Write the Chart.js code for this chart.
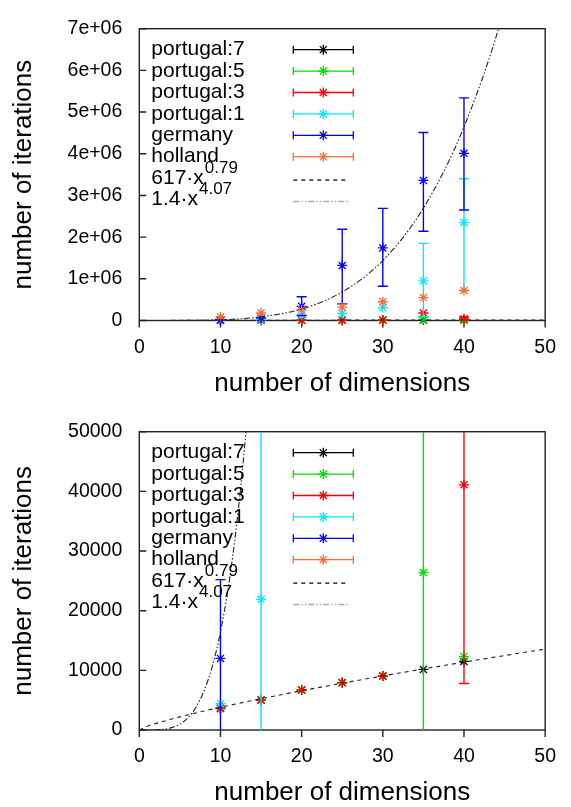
<!DOCTYPE html>
<html>
<head>
<meta charset="utf-8">
<script src="https://cdn.jsdelivr.net/npm/chart.js@4.4.0/dist/chart.umd.min.js"></script>
<style>
  html, body { margin: 0; padding: 0; background: #fff; }
  #wrap { position: relative; width: 571px; height: 807px; }
  .box { position: absolute; left: 0; width: 571px; }
  #top { top: 0; height: 403px; }
  #bottom { top: 403px; height: 404px; }
</style>
</head>
<body>
<div id="wrap">
  <div class="box" id="top"><canvas id="chartTop"></canvas></div>
  <div class="box" id="bottom"><canvas id="chartBottom"></canvas></div>
</div>
<script>
// dimensions measured
const dims = [10, 15, 20, 25, 30, 35, 40];

// mean iterations per series (null = no error bar)
const portugal7 = [3600, 5050, 6700, 7950, 9050, 10150, 11500];
const portugal5 = [3700, 5100, 6750, 7950, 9100, 26400, 12300];
const portugal5Lo = [null, null, null, null, null, -30000, null];
const portugal5Hi = [null, null, null, null, null, 90000, null];
const portugal3 = [3650, 5000, 6700, 7900, 9050, 180000, 41100];
const portugal3Lo = [null, null, null, null, null, null, 7800];
const portugal3Hi = [null, null, null, null, null, null, 85000];
const portugal1 = [4400, 21900, 130000, 170000, 310000, 950000, 2350000];
const portugal1Lo = [null, -20000, null, null, null, 90000, 720000];
const portugal1Hi = [null, 80000, null, null, null, 1850000, 3400000];
const germany = [12000, 60000, 340000, 1320000, 1740000, 3360000, 4010000];
const germanyLo = [-3000, null, 120000, 400000, 820000, 2140000, 2650000];
const germanyHi = [25200, null, 570000, 2190000, 2690000, 4510000, 5340000];
const holland = [90000, 180000, 250000, 320000, 450000, 550000, 720000];

// fitted curves
const fitX = [0, 1, 2, 3, 4, 5, 6, 7, 8, 9, 10, 11, 12, 13, 14, 15, 20, 25, 30, 35, 40, 45, 50];
const fitSlow = [0, 617, 1067, 1470, 1845, 2200, 2541, 2870, 3189, 3500, 3804, 4102, 4394, 4681, 4963,
  5241, 6578, 7847, 9064, 10238, 11377, 12483, 13568];
const fitFast = [0, 1.4, 23.5, 122, 395, 979, 2058, 3852, 6630, 10707, 16440, 24217, 34510, 47810, 64670,
  85700, 276500, 685000, 1439000, 2695000, 4644000, 7490000, 11500000];

const xTicks = [0, 10, 20, 30, 40, 50];

const FONT = '"Liberation Sans", Arial, sans-serif';
Chart.defaults.color = '#000';
Chart.defaults.font.family = FONT;

const pts = (xs, ys) => xs.map((x, i) => ({ x: x, y: ys[i] }));

function seriesSet() {
  const s = [
    { label: 'portugal:7', color: '#000000', data: portugal7, lo: null, hi: null },
    { label: 'portugal:5', color: '#00e000', data: portugal5, lo: portugal5Lo, hi: portugal5Hi },
    { label: 'portugal:3', color: '#ff0000', data: portugal3, lo: portugal3Lo, hi: portugal3Hi },
    { label: 'portugal:1', color: '#00e8ff', data: portugal1, lo: portugal1Lo, hi: portugal1Hi },
    { label: 'germany', color: '#0000ff', data: germany, lo: germanyLo, hi: germanyHi },
    { label: 'holland', color: '#ff6a30', data: holland, lo: null, hi: null }
  ];
  const out = s.map((d, i) => ({
    type: 'scatter',
    label: d.label,
    data: pts(dims, d.data),
    errLo: d.lo,
    errHi: d.hi,
    borderColor: d.color,
    backgroundColor: d.color,
    pointStyle: 'star',
    pointRadius: 5,
    pointBorderWidth: 1.3,
    order: -i,
    clip: { left: 8, right: 8, top: 0, bottom: 8 }
  }));
  out.push({
    type: 'line', label: '617·x', sup: '0.79', keyColor: '#000',
    data: pts(fitX, fitSlow), borderColor: '#222', borderWidth: 1.1,
    borderDash: [4, 4], pointRadius: 0, cubicInterpolationMode: 'monotone', order: -6
  });
  out.push({
    type: 'line', label: '1.4·x', sup: '4.07', keyColor: '#aaa',
    data: pts(fitX, fitFast), borderColor: '#222', borderWidth: 1.1,
    borderDash: [6, 2, 1.5, 2, 1.5, 2], pointRadius: 0, cubicInterpolationMode: 'monotone', order: -7
  });
  return out;
}

// error bars under each series' points
const errorBars = {
  id: 'errorBars',
  beforeDatasetDraw(chart, args) {
    const ds = chart.data.datasets[args.index];
    if (!ds.errLo) return;
    const { ctx, chartArea, scales: { x, y } } = chart;
    ctx.save();
    ctx.beginPath();
    ctx.rect(chartArea.left, chartArea.top, chartArea.width, chartArea.height);
    ctx.clip();
    ctx.strokeStyle = ds.borderColor;
    ctx.lineWidth = 1.4;
    ds.data.forEach((p, i) => {
      const lo = ds.errLo[i], hi = ds.errHi[i];
      if (lo == null || hi == null) return;
      const px = x.getPixelForValue(p.x);
      const a = y.getPixelForValue(lo), b = y.getPixelForValue(hi);
      ctx.beginPath();
      ctx.moveTo(px, a); ctx.lineTo(px, b);
      ctx.moveTo(px - 5, a); ctx.lineTo(px + 5, a);
      ctx.moveTo(px - 5, b); ctx.lineTo(px + 5, b);
      ctx.stroke();
    });
    ctx.restore();
  }
};

// gnuplot-like frame with inward y ticks, outward x ticks
const frame = {
  id: 'frame',
  beforeDatasetsDraw(chart) {
    const { ctx, chartArea: a, scales: { x, y } } = chart;
    ctx.save();
    ctx.strokeStyle = '#222';
    ctx.lineWidth = 1.4;
    ctx.strokeRect(a.left, a.top, a.width, a.height);
    ctx.beginPath();
    y.ticks.forEach(t => {
      const py = y.getPixelForValue(t.value);
      ctx.moveTo(a.left, py); ctx.lineTo(a.left + 7, py);
    });
    x.ticks.forEach(t => {
      const px = x.getPixelForValue(t.value);
      ctx.moveTo(px, a.bottom); ctx.lineTo(px, a.bottom + 7);
    });
    ctx.stroke();
    ctx.restore();
  }
};

// key in the upper left corner, text then sample
const key = {
  id: 'key',
  afterDatasetsDraw(chart) {
    const { ctx, chartArea: a } = chart;
    const tx = a.left + 12, y0 = a.top + 21, gap = 21.4;
    const s1 = a.left + 154, s2 = a.left + 214, sm = (s1 + s2) / 2;
    ctx.save();
    chart.data.datasets.forEach((ds, i) => {
      const y = y0 + i * gap;
      ctx.fillStyle = '#000';
      ctx.textBaseline = 'middle';
      ctx.textAlign = 'left';
      ctx.font = '21px ' + FONT;
      ctx.fillText(ds.label, tx, y);
      if (ds.sup) {
        const w = ctx.measureText(ds.label).width;
        ctx.font = '17px ' + FONT;
        ctx.fillText(ds.sup, tx + w + 1, y - 10);
      }
      ctx.lineWidth = 1.3;
      if (ds.type === 'line') {
        ctx.strokeStyle = ds.keyColor;
        ctx.setLineDash(ds.borderDash);
        ctx.beginPath();
        ctx.moveTo(s1, y + 2); ctx.lineTo(s2 - 4, y + 2);
        ctx.stroke();
        ctx.setLineDash([]);
        return;
      }
      ctx.strokeStyle = ds.borderColor;
      ctx.beginPath();
      ctx.moveTo(s1, y); ctx.lineTo(s2, y);
      ctx.moveTo(s1, y - 4); ctx.lineTo(s1, y + 4);
      ctx.moveTo(s2, y - 4); ctx.lineTo(s2, y + 4);
      ctx.stroke();
      Chart.helpers.drawPoint(ctx, { pointStyle: 'star', radius: 5, borderWidth: 1.3 }, sm, y);
    });
    ctx.restore();
  }
};

function makeChart(id, yMax, yStep, fmt, geo) {
  return new Chart(document.getElementById(id), {
    type: 'scatter',
    data: { datasets: seriesSet() },
    plugins: [frame, errorBars, key],
    options: {
      responsive: true,
      maintainAspectRatio: false,
      animation: false,
      layout: { padding: { top: geo.top, right: 21, left: 0, bottom: 0 } },
      plugins: { legend: { display: false }, tooltip: { enabled: false } },
      scales: {
        x: {
          type: 'linear', min: 0, max: 50,
          afterBuildTicks: s => { s.ticks = xTicks.map(v => ({ value: v })); },
          afterFit: s => { s.height = geo.xh; },
          grid: { display: false, drawTicks: false },
          border: { display: false },
          ticks: { font: { size: 19.5 }, padding: 15, maxRotation: 0, autoSkip: false, color: '#000' },
          title: { display: true, text: 'number of dimensions', font: { size: 26, lineHeight: 1 }, padding: { bottom: geo.tb, top: 0 }, color: '#000' }
        },
        y: {
          type: 'linear', min: 0, max: yMax,
          afterFit: s => { s.width = 139.3; },
          grid: { display: false, drawTicks: false },
          border: { display: false },
          ticks: { stepSize: yStep, font: { size: 19.5 }, padding: 17, callback: fmt, color: '#000' },
          title: { display: true, text: 'number of iterations', font: { size: 26 }, padding: { top: 8, bottom: 0 }, color: '#000' }
        }
      }
    }
  });
}

makeChart('chartTop', 7e6, 1e6, v => v === 0 ? '0' : (v / 1e6) + 'e+06', { top: 15.7, xh: 82.5, tb: 6 });
makeChart('chartBottom', 50000, 10000, v => String(v), { top: 22.7, xh: 77, tb: 1 });
</script>
</body>
</html>
